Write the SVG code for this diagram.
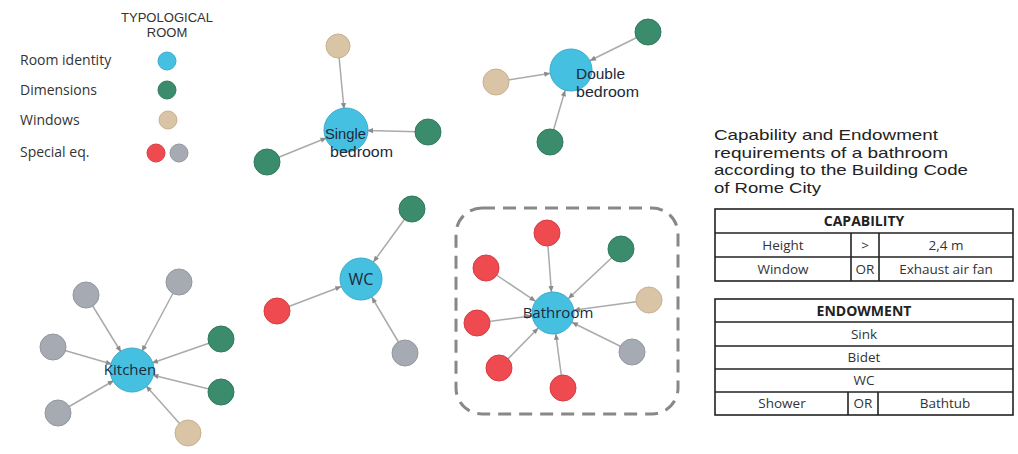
<svg xmlns="http://www.w3.org/2000/svg" width="1018" height="454" viewBox="0 0 1018 454">
<style>
text{font-family:"Open Sans","Liberation Sans",sans-serif}
.leg{font-size:14px;fill:#333}
.hdr{font-family:"Liberation Sans",sans-serif;font-size:13px;fill:#333;text-anchor:middle}
.room{fill:#46c0e0;stroke:#3aaccb;stroke-width:1}
.dim{fill:#3a8c6c;stroke:#2f7a5c;stroke-width:1}
.win{fill:#d9c4a6;stroke:#c7b193;stroke-width:1}
.red{fill:#ee4a50;stroke:#d63c42;stroke-width:1}
.gray{fill:#a6aab2;stroke:#93979f;stroke-width:1}
.lbl{font-size:15px;fill:#1c2a3c}
.lbl2{font-family:"Liberation Sans",sans-serif;font-size:15px;fill:#1c2a3c}
.con line{stroke:#aaa;stroke-width:1.5;marker-end:url(#arr)}
.title{font-family:"Liberation Sans",sans-serif;font-size:15px;fill:#222}
.tb{fill:none;stroke:#222;stroke-width:1.6}
.tt{font-size:13.5px;fill:#333;text-anchor:middle}
.th{font-size:14px;fill:#222;font-weight:bold;text-anchor:middle}
</style>
<defs>
<marker id="arr" markerUnits="userSpaceOnUse" viewBox="-10 -5 40 10" markerWidth="40" markerHeight="10" refX="21" refY="0" orient="auto" overflow="visible">
<path d="M0,0 L-6,-2.6 L-6,2.6 z" fill="#8a8a8a"/>
</marker>
</defs>
<rect width="1018" height="454" fill="#fff"/>

<g id="legend">
<text class="hdr" x="167" y="21.5" textLength="92" lengthAdjust="spacingAndGlyphs">TYPOLOGICAL</text>
<text class="hdr" x="167" y="37">ROOM</text>
<text class="leg" x="20" y="65">Room identity</text>
<text class="leg" x="20" y="95">Dimensions</text>
<text class="leg" x="20" y="125">Windows</text>
<text class="leg" x="20" y="157">Special eq.</text>
<circle class="room" cx="167" cy="61" r="9"/>
<circle class="dim" cx="167" cy="90" r="9"/>
<circle class="win" cx="168" cy="120" r="9"/>
<circle class="red" cx="156" cy="153" r="9"/>
<circle class="gray" cx="179" cy="153" r="9"/>
</g>

<g id="connectors" class="con">
<line x1="338" y1="46" x2="346" y2="130"/>
<line x1="428" y1="132" x2="346" y2="130"/>
<line x1="267" y1="162" x2="346" y2="130"/>
<line x1="648" y1="32" x2="571" y2="70"/>
<line x1="496" y1="82" x2="571" y2="70"/>
<line x1="550" y1="142" x2="571" y2="70"/>
<line x1="412" y1="209" x2="361" y2="279"/>
<line x1="277" y1="311" x2="361" y2="279"/>
<line x1="405" y1="353" x2="361" y2="279"/>
<line x1="86" y1="295" x2="132" y2="370"/>
<line x1="179" y1="282" x2="132" y2="370"/>
<line x1="53" y1="347" x2="132" y2="370"/>
<line x1="58" y1="413" x2="132" y2="370"/>
<line x1="221" y1="339" x2="132" y2="370"/>
<line x1="221" y1="392" x2="132" y2="370"/>
<line x1="188" y1="433" x2="132" y2="370"/>
<line x1="547" y1="233" x2="553" y2="313"/>
<line x1="486" y1="268" x2="553" y2="313"/>
<line x1="477" y1="323" x2="553" y2="313"/>
<line x1="499" y1="368" x2="553" y2="313"/>
<line x1="563" y1="388" x2="553" y2="313"/>
<line x1="621" y1="249" x2="553" y2="313"/>
<line x1="649" y1="300" x2="553" y2="313"/>
<line x1="632" y1="352" x2="553" y2="313"/>
</g>

<g id="single-bedroom">
<circle class="win" cx="338" cy="46" r="12"/>
<circle class="dim" cx="428" cy="132" r="13"/>
<circle class="dim" cx="267" cy="162" r="13"/>
<circle class="room" cx="346" cy="130" r="22"/>
<text class="lbl2" x="325" y="139" textLength="41" lengthAdjust="spacingAndGlyphs">Single</text>
<text class="lbl2" x="330" y="156.5" textLength="63" lengthAdjust="spacingAndGlyphs">bedroom</text>
</g>

<g id="double-bedroom">
<circle class="dim" cx="648" cy="32" r="13"/>
<circle class="win" cx="496" cy="82" r="13"/>
<circle class="dim" cx="550" cy="142" r="13"/>
<circle class="room" cx="571" cy="70" r="21"/>
<text class="lbl2" x="576" y="79" textLength="49" lengthAdjust="spacingAndGlyphs">Double</text>
<text class="lbl2" x="576" y="96.5" textLength="63" lengthAdjust="spacingAndGlyphs">bedroom</text>
</g>

<g id="wc">
<circle class="dim" cx="412" cy="209" r="13"/>
<circle class="red" cx="277" cy="311" r="13"/>
<circle class="gray" cx="405" cy="353" r="13"/>
<circle class="room" cx="361" cy="279" r="21"/>
<text class="lbl" x="361" y="285" text-anchor="middle" style="font-size:16px">WC</text>
</g>

<g id="kitchen">
<circle class="gray" cx="86" cy="295" r="13"/>
<circle class="gray" cx="179" cy="282" r="13"/>
<circle class="gray" cx="53" cy="347" r="13"/>
<circle class="gray" cx="58" cy="413" r="13"/>
<circle class="dim" cx="221" cy="339" r="13"/>
<circle class="dim" cx="221" cy="392" r="13"/>
<circle class="win" cx="188" cy="433" r="13"/>
<circle class="room" cx="132" cy="370" r="22"/>
<text class="lbl" x="130" y="375" text-anchor="middle">Kitchen</text>
</g>

<g id="bathroom">
<rect x="456" y="208" width="222" height="206" rx="26" ry="26" fill="none" stroke="#888" stroke-width="3" stroke-dasharray="13 8"/>
<circle class="red" cx="547" cy="233" r="13"/>
<circle class="red" cx="486" cy="268" r="13"/>
<circle class="red" cx="477" cy="323" r="13"/>
<circle class="red" cx="499" cy="368" r="13"/>
<circle class="red" cx="563" cy="388" r="13"/>
<circle class="dim" cx="621" cy="249" r="13"/>
<circle class="win" cx="649" cy="300" r="13"/>
<circle class="gray" cx="632" cy="352" r="13"/>
<circle class="room" cx="553" cy="313" r="21"/>
<text class="lbl" x="558" y="318" text-anchor="middle">Bathroom</text>
</g>

<g id="title">
<text class="title" x="714" y="140" textLength="224" lengthAdjust="spacingAndGlyphs">Capability and Endowment</text>
<text class="title" x="714" y="157.5" textLength="234" lengthAdjust="spacingAndGlyphs">requirements of a bathroom</text>
<text class="title" x="714" y="175" textLength="254" lengthAdjust="spacingAndGlyphs">according to the Building Code</text>
<text class="title" x="714" y="192.5" textLength="107" lengthAdjust="spacingAndGlyphs">of Rome City</text>
</g>

<g id="capability-table">
<rect class="tb" x="715" y="209" width="298" height="72"/>
<line class="tb" x1="715" y1="233" x2="1013" y2="233"/>
<line class="tb" x1="715" y1="257" x2="1013" y2="257"/>
<line class="tb" x1="851" y1="233" x2="851" y2="281"/>
<line class="tb" x1="879" y1="233" x2="879" y2="281"/>
<text class="th" x="864" y="226">CAPABILITY</text>
<text class="tt" x="783" y="250">Height</text>
<text class="tt" x="865" y="250">&gt;</text>
<text class="tt" x="946" y="250">2,4 m</text>
<text class="tt" x="783" y="274">Window</text>
<text class="tt" x="865" y="274">OR</text>
<text class="tt" x="946" y="274">Exhaust air fan</text>
</g>

<g id="endowment-table">
<rect class="tb" x="715" y="299" width="298" height="116"/>
<line class="tb" x1="715" y1="322" x2="1013" y2="322"/>
<line class="tb" x1="715" y1="346" x2="1013" y2="346"/>
<line class="tb" x1="715" y1="369" x2="1013" y2="369"/>
<line class="tb" x1="715" y1="392" x2="1013" y2="392"/>
<line class="tb" x1="848" y1="392" x2="848" y2="415"/>
<line class="tb" x1="878" y1="392" x2="878" y2="415"/>
<text class="th" x="864" y="316">ENDOWMENT</text>
<text class="tt" x="864" y="339">Sink</text>
<text class="tt" x="864" y="362">Bidet</text>
<text class="tt" x="864" y="385">WC</text>
<text class="tt" x="782" y="408">Shower</text>
<text class="tt" x="863" y="408">OR</text>
<text class="tt" x="945" y="408">Bathtub</text>
</g>
</svg>
